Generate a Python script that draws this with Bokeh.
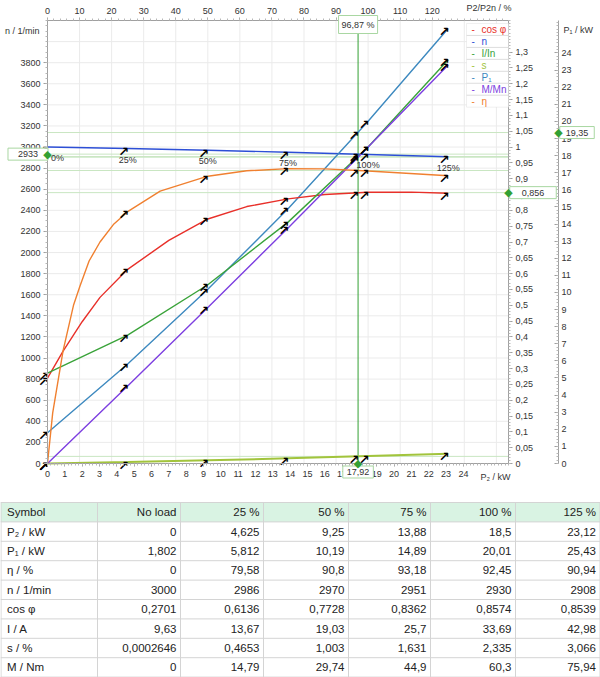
from bokeh.plotting import figure
from bokeh.models import (Range1d, LinearAxis, FixedTicker, CustomJSTickFormatter,
                          Label, BoxAnnotation)
from bokeh.layouts import column
from bokeh.embed import file_html
from bokeh.resources import INLINE
from bokeh.core.properties import value

# ---------------- data ----------------
load_labels = ["0%", "25%", "50%", "75%", "100%", "125%"]
col_heads = ["Symbol", "No load", "25 %", "50 %", "75 %", "100 %", "125 %"]
row_names = ["P\u2082 / kW", "P\u2081 / kW", "\u03b7 / %", "n / 1/min", "cos \u03c6",
             "I / A", "s / %", "M / Nm"]

P2 = [0, 4.625, 9.25, 13.88, 18.5, 23.12]
P1 = [1.802, 5.812, 10.19, 14.89, 20.01, 25.43]
eta = [0, 79.58, 90.8, 93.18, 92.45, 90.94]
n = [3000, 2986, 2970, 2951, 2930, 2908]
cosphi = [0.2701, 0.6136, 0.7728, 0.8362, 0.8574, 0.8539]
I = [9.63, 13.67, 19.03, 25.7, 33.69, 42.98]
s = [0.0002646, 0.4653, 1.003, 1.631, 2.335, 3.066]
M = [0, 14.79, 29.74, 44.9, 60.3, 75.94]

# curve shapes between load points
eta_curve_p2 = [0, 0.3, 0.9, 1.5, 1.88, 2.4, 3.03, 3.8, 4.625, 6.5, 9.25, 11.5, 13.88, 16, 18.5, 23.12]
eta_curve = [0, 0.16, 0.357, 0.5, 0.562, 0.64, 0.7, 0.755, 0.7958, 0.861, 0.908, 0.925, 0.9318, 0.931, 0.9245, 0.9094]
cos_curve_p2 = [0, 0.9, 2, 3.03, 4.625, 7, 9.25, 11.5, 13.88, 16, 18.5, 21, 23.12]
cos_curve = [0.2701, 0.355, 0.448, 0.525, 0.6136, 0.705, 0.7728, 0.812, 0.8362, 0.85, 0.8574, 0.8575, 0.8539]

# operating point (cursor)
op_pct = 96.87
op_p2 = 17.92
op_n = 2933
op_cos = 0.856
op_p1 = 19.35
op_eta = 0.926
op_i = 0.97
op_m = 0.968
op_s = 0.0225

legend_names = ["cos \u03c6", "n", "I/In", "s", "P\u2081", "M/Mn", "\u03b7"]

# ---------------- derived ----------------
I_pu = [v / I[4] for v in I]
M_pu = [v / M[4] for v in M]
s_pu = [v / 100 for v in s]
eta_pu = [v / 100 for v in eta]

FONT = "Liberation Sans"
RED = "#e8302a"
BLUE = "#2d4fd6"
GREEN = "#3aa33a"
OLIVE = "#a2c43c"
STEEL = "#3d89bf"
PURPLE = "#7d3fe0"
ORANGE = "#f08030"
OPGREEN = "#33a033"
OPLINE = "#c9e6c2"
BOXLINE = "#a9d7a2"
GRID = "#ebebeb"
legend_colors = [RED, BLUE, GREEN, OLIVE, STEEL, PURPLE, ORANGE]

X_MAX = 26.6
PCT_MAX = X_MAX / P2[4] * 100
PU_MAX = 1.4
N_MAX = 4200
P1_MAX = 25.9

W, H = 600, 497
FL, FR, FT, FB = 47, 508, 20, 463   # plot area inside the canvas


def canvas_range(vmax, lo_px, hi_px, length):
    k = (hi_px - lo_px) / vmax
    return Range1d(-lo_px / k, (length - lo_px) / k)


def sx(px):
    return (px - FL) / (FR - FL) * X_MAX


def spu(py):
    return (FB - py) / (FB - FT) * PU_MAX


def fmt(v):
    if not isinstance(v, float):
        return str(v)
    return str(v).replace(".", ",")


p = figure(width=W, height=H,
           x_range=canvas_range(X_MAX, FL, FR, W),
           y_range=canvas_range(PU_MAX, H - FB, H - FT, H),
           x_axis_type=None, y_axis_type=None, output_backend="svg",
           toolbar_location=None, min_border=0)
p.extra_y_ranges = {"n": canvas_range(N_MAX, H - FB, H - FT, H),
                    "p1": canvas_range(P1_MAX, H - FB, H - FT, H)}
p.extra_x_ranges = {"pct": canvas_range(PCT_MAX, FL, FR, W)}
p.outline_line_color = None
p.background_fill_color = "white"
p.border_fill_color = "white"

comma = CustomJSTickFormatter(code="return String(Math.round(tick*100)/100).replace('.', ',');")


def style_axis(ax, ticks, minor, bounds, tick_out=4, tick_in=0, standoff=3):
    ax.ticker = FixedTicker(ticks=ticks, minor_ticks=minor)
    ax.bounds = bounds
    ax.axis_line_color = "#a0a0a0"
    ax.major_tick_line_color = "#a0a0a0"
    ax.minor_tick_line_color = "#b8b8b8"
    ax.major_tick_out = tick_out
    ax.major_tick_in = tick_in
    ax.minor_tick_out = 2 if tick_out else 0
    ax.minor_tick_in = 2 if tick_in else 0
    ax.major_label_text_font = FONT
    ax.major_label_text_font_size = "9px"
    ax.major_label_text_color = "#333333"
    ax.major_label_standoff = standoff


# grid (drawn under everything)
vg = list(range(10, 141, 10))
p.segment(x0=vg, x1=vg, y0=[0] * len(vg), y1=[PU_MAX] * len(vg), x_range_name="pct",
          color=GRID, line_width=1)
hg = list(range(200, 4201, 200))
p.segment(x0=[0] * len(hg), x1=[X_MAX] * len(hg), y0=hg, y1=hg, y_range_name="n",
          color=GRID, line_width=1)

ax_n = LinearAxis(y_range_name="n", fixed_location=0)
style_axis(ax_n, list(range(0, 3801, 200)), list(range(0, 4201, 50)), (0, N_MAX))
p.add_layout(ax_n, "left")

ax_pu = LinearAxis(formatter=comma, fixed_location=X_MAX)
style_axis(ax_pu, [round(i * 0.05, 2) for i in range(27)],
           [round(i * 0.01, 2) for i in range(141)], (0, PU_MAX))
p.add_layout(ax_pu, "right")

ax_p1 = LinearAxis(y_range_name="p1", fixed_location=sx(558))
style_axis(ax_p1, list(range(0, 25)), [round(i * 0.2, 1) for i in range(130)], (0, P1_MAX),
           tick_out=0, tick_in=4)
p.add_layout(ax_p1, "right")

ax_b = LinearAxis(fixed_location=0)
style_axis(ax_b, list(range(0, 25)), [round(i * 0.2, 1) for i in range(134)], (0, X_MAX),
           tick_out=3, standoff=4)
p.add_layout(ax_b, "below")

ax_t = LinearAxis(x_range_name="pct", fixed_location=PU_MAX)
style_axis(ax_t, list(range(0, 121, 10)), list(range(0, 144, 2)), (0, PCT_MAX),
           tick_out=3, standoff=4)
p.add_layout(ax_t, "above")

# operating point lines
for v, rn in [(op_n, "n"), (op_p1, "p1"), (op_cos, "default"), (op_eta, "default"),
              (op_i, "default"), (op_m, "default"), (op_s, "default")]:
    p.segment(x0=[0], x1=[X_MAX], y0=[v], y1=[v], y_range_name=rn, color=OPLINE, line_width=1)
p.segment(x0=[op_p2], x1=[op_p2], y0=[0], y1=[spu(32)], color=OPGREEN, line_width=1)

# curves
p.line(P2, s_pu, color=OLIVE, line_width=2)
p.line(P2, n, y_range_name="n", color=BLUE, line_width=1.4)
p.line(P2, P1, y_range_name="p1", color=STEEL, line_width=1.4)
p.line(cos_curve_p2, cos_curve, color=RED, line_width=1.4)
p.line(P2, I_pu, color=GREEN, line_width=1.4)
p.line(P2, M_pu, color=PURPLE, line_width=1.4)
p.line(eta_curve_p2, eta_curve, color=ORANGE, line_width=1.4)

# point markers (arrows)
ARROW = "\u2197"
pu_x, pu_y = [], []
for series, opv in [(cosphi, op_cos), (I_pu, op_i), (s_pu, op_s), (M_pu, op_m), (eta_pu, op_eta)]:
    pu_x += P2 + [op_p2]
    pu_y += series + [opv]
for xs, ys, rn in [(pu_x, pu_y, "default"), (P2 + [op_p2], n + [op_n], "n"),
                   (P2 + [op_p2], P1 + [op_p1], "p1")]:
    p.text(xs, ys, text=[ARROW] * len(xs), y_range_name=rn, text_font=value("DejaVu Sans"),
           text_font_size="13px", text_font_style="bold", text_color="black",
           text_align="center", text_baseline="middle", x_offset=-4, y_offset=3)

# load labels along n
p.text(P2, n, text=load_labels, y_range_name="n", text_font=value(FONT),
       text_font_size="9px", text_color="#333333", text_align="center",
       text_baseline="top", x_offset=[10, 0, 0, 0, 0, 0], y_offset=6)

# cursor boxes and diamonds  (padding = (horizontal, vertical))
lab_kw = dict(text_font=FONT, text_font_size="9px", text_color="#333333",
              text_baseline="middle", text_align="center", border_line_color=BOXLINE,
              background_fill_color="white")
p.add_layout(Label(x=op_p2, y=spu(24), text=fmt(op_pct) + " %", padding=(3, 4), **lab_kw))
p.add_layout(Label(x=0, y=op_n, y_range_name="n", x_offset=-19.5, text=fmt(op_n),
                   padding=(10, 3), **lab_kw))
p.add_layout(Label(x=X_MAX, y=op_cos, x_offset=24.5, text=fmt(op_cos),
                   padding=(12, 3), **lab_kw))
p.add_layout(Label(x=X_MAX, y=op_p1, y_range_name="p1", x_offset=68.5, text=fmt(op_p1),
                   padding=(6, 3), **lab_kw))
p.add_layout(Label(x=op_p2, y=0, y_offset=-8.5, text=fmt(op_p2),
                   padding=(4, 3), **lab_kw))

dia_kw = dict(text="\u25c6", text_font="DejaVu Sans", text_font_size="11px",
              text_color=OPGREEN, text_align="center", text_baseline="middle")
p.add_layout(Label(x=0, y=op_n, y_range_name="n", **dia_kw))
p.add_layout(Label(x=X_MAX, y=op_cos, **dia_kw))
p.add_layout(Label(x=X_MAX, y=op_p1, y_range_name="p1", x_offset=50, **dia_kw))
p.add_layout(Label(x=op_p2, y=0, **dia_kw))

# axis titles
tit_kw = dict(text_font=FONT, text_font_size="9px", text_color="#333333", text_baseline="middle")
p.add_layout(Label(x=sx(39), y=spu(30), text="n / 1/min", text_align="right", **tit_kw))
p.add_layout(Label(x=sx(466), y=spu(7), text="P2/P2n  / %", text_align="left", **tit_kw))
p.add_layout(Label(x=sx(563), y=spu(29), text="P\u2081 / kW", text_align="left", **tit_kw))
p.add_layout(Label(x=sx(480), y=spu(476), text="P\u2082 / kW", text_align="left", **tit_kw))

# legend
LG_L, LG_T, ROW = 466, 23, 11.95
p.add_layout(BoxAnnotation(left=sx(LG_L), right=X_MAX, top=spu(LG_T),
                           bottom=spu(LG_T + 7 * ROW), fill_color="white", fill_alpha=1,
                           line_color="#cccccc", line_width=1))
seps = [spu(LG_T + (i + 1) * ROW) for i in range(6)]
p.segment(x0=[sx(LG_L)] * 6, x1=[X_MAX] * 6, y0=seps, y1=seps, color="#dddddd", line_width=1,
          level="overlay")
for i, (nm, c) in enumerate(zip(legend_names, legend_colors)):
    yc = spu(LG_T + (i + 0.5) * ROW)
    p.add_layout(Label(x=sx(471), y=yc, text="-", text_color=c, text_font=FONT,
                       text_font_size="10px", text_baseline="middle"))
    p.add_layout(Label(x=sx(481), y=yc, text=nm, text_color=c, text_font=FONT,
                       text_font_size="10px", text_baseline="middle"))

# ---------------- table ----------------
TH = 180
t = figure(width=W, height=TH, x_range=Range1d(0, W), y_range=Range1d(TH, 0),
           x_axis_type=None, y_axis_type=None, output_backend="svg",
           toolbar_location=None, min_border=0)
t.outline_line_color = None
col_edges = [0.5, 97, 180, 263, 348, 430, 515, 599.5]
r0, rh = 5, 19.4
nrows = 9
t.quad(left=[0], right=[W], top=[r0], bottom=[r0 + rh], fill_color="#d9f3e3", line_color=None)
hy = [r0 + i * rh for i in range(nrows + 1)]
t.segment(x0=[0] * len(hy), x1=[W] * len(hy), y0=hy, y1=hy, color="#d4d4d4", line_width=1)
t.segment(x0=col_edges, x1=col_edges, y0=[r0] * len(col_edges),
          y1=[r0 + nrows * rh] * len(col_edges), color="#d4d4d4", line_width=1)

rows = [P2, P1, eta, n, cosphi, I, s, M]
tx, ty, tt, ta = [], [], [], []
for j, h in enumerate(col_heads):
    tt.append(h)
    ty.append(r0 + rh / 2)
    if j == 0:
        tx.append(col_edges[0] + 6); ta.append("left")
    else:
        tx.append(col_edges[j + 1] - 4); ta.append("right")
for i, (nm, vals) in enumerate(zip(row_names, rows)):
    yc = r0 + (i + 1.5) * rh
    tx.append(col_edges[0] + 6); ty.append(yc); tt.append(nm); ta.append("left")
    for j, v in enumerate(vals):
        tx.append(col_edges[j + 2] - 4); ty.append(yc); tt.append(fmt(v)); ta.append("right")
t.text(tx, ty, text=tt, text_align=ta, text_baseline="middle", text_font=value(FONT),
       text_font_size="11.5px", text_color="#222222")

layout = column(p, t, spacing=0)
open("out.html", "w").write(file_html(layout, INLINE))
